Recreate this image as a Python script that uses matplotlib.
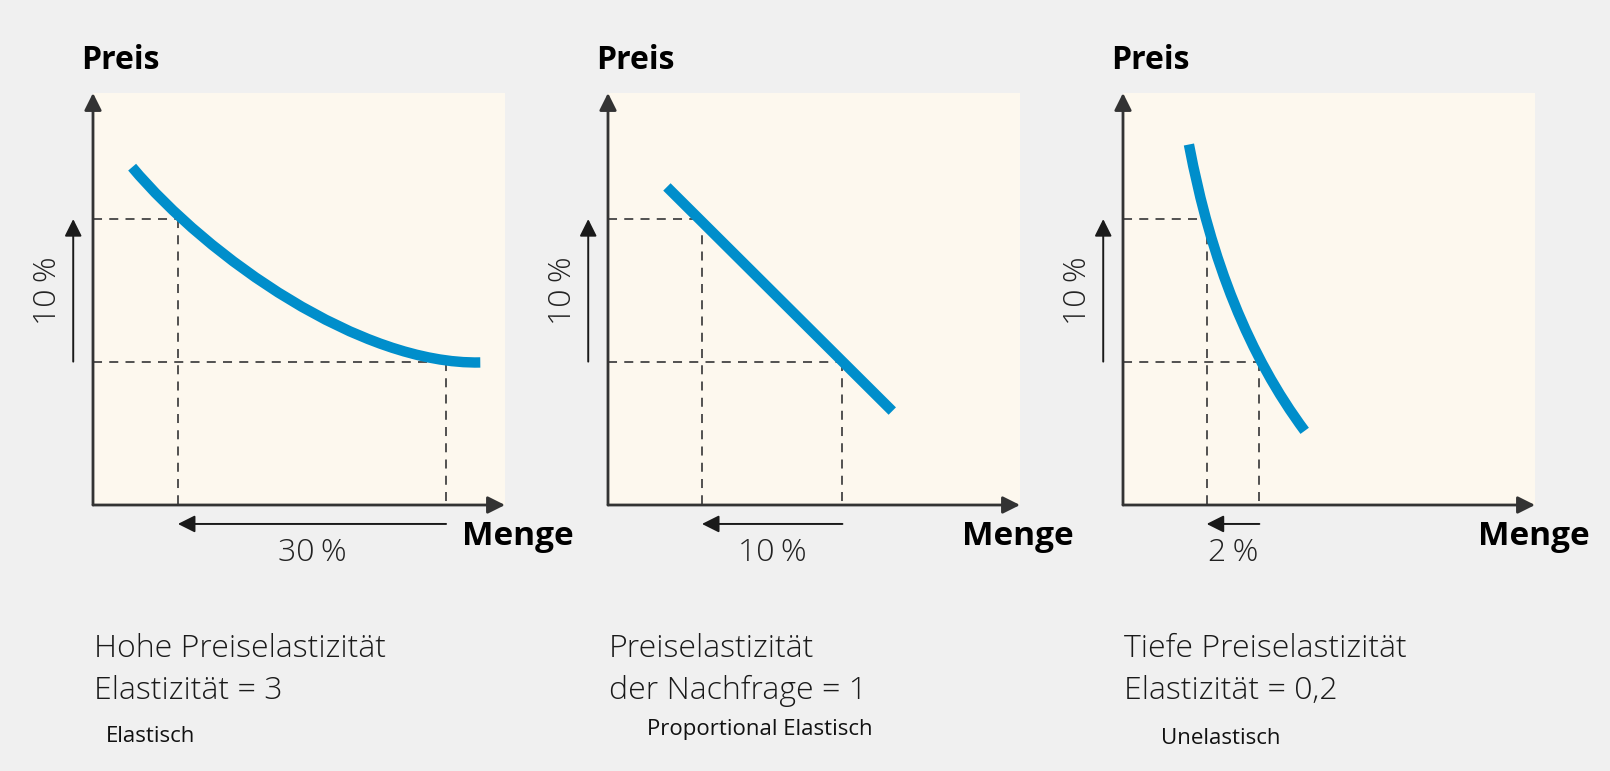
import matplotlib.pyplot as plt
from matplotlib.path import Path
from matplotlib.patches import PathPatch

# chart values (panel units: 0..100 on both axes)
price_high = 69.4
price_low = 34.8

# demand curves, given as bezier control points
curve1_x = [9.5, 28, 65, 94]
curve1_y = [82, 60, 34, 34.6]
curve2_x = [14.3, 69.0]
curve2_y = [77.2, 22.8]
curve3_x = [16, 24, 44.1]
curve3_y = [87.5, 45, 18]

quantities = [[20.6, 85.7], [22.8, 56.9], [20.3, 33.1]]
qty_labels = ['30\u2009%', '10\u2009%', '2\u2009%']
price_label = '10\u2009%'
menge_x = [89.6, 86, 86.2]

titles = [['Hohe Preiselastizität', 'Elastizität = 3'],
          ['Preiselastizität', 'der Nachfrage = 1'],
          ['Tiefe Preiselastizität', 'Elastizität = 0,2']]
subtitles = ['Elastisch', 'Proportional Elastisch', 'Unelastisch']

BG = '#f0f0f0'
CREAM = '#fdf8ee'
BLUE = '#008ecb'
DARK = '#1a1a1a'
FONT = ['Open Sans', 'DejaVu Sans']

W, H = 1610, 771
fig = plt.figure(figsize=(W / 100, H / 100), dpi=100, facecolor=BG)

panel_left = [93, 608, 1123]
panel_bottom = 505
panel_size = 412


def arrow(ax, start, tip, lw=1.4, color=DARK):
    ax.annotate('', xy=tip, xytext=start,
                arrowprops=dict(arrowstyle='-|>', lw=lw, color=color,
                                mutation_scale=26, shrinkA=0, shrinkB=0),
                annotation_clip=False)


def bezier(ax, xs, ys):
    pts = list(zip(xs, ys))
    if len(pts) == 2:
        codes = [Path.MOVETO, Path.LINETO]
    elif len(pts) == 3:
        codes = [Path.MOVETO, Path.CURVE3, Path.CURVE3]
    else:
        codes = [Path.MOVETO, Path.CURVE4, Path.CURVE4, Path.CURVE4]
    ax.add_patch(PathPatch(Path(pts, codes), fill=False, edgecolor=BLUE,
                           lw=7.5, capstyle='butt', zorder=4))


curves = [(curve1_x, curve1_y), (curve2_x, curve2_y), (curve3_x, curve3_y)]
sub_pos = [(106, 736), (647, 729), (1161, 739)]

for i in range(3):
    ax = fig.add_axes([panel_left[i] / W, (H - panel_bottom) / H,
                       panel_size / W, panel_size / H])
    ax.set_facecolor(CREAM)
    ax.set_xlim(0, 100)
    ax.set_ylim(0, 100)
    ax.set_xticks([])
    ax.set_yticks([])
    for s in ax.spines.values():
        s.set_visible(False)

    # axes with arrows
    arrow(ax, (0, 0), (0, 100), lw=2, color='#333333')
    arrow(ax, (0, 0), (100, 0), lw=2, color='#333333')

    qa, qb = quantities[i]
    dash = dict(color='#444444', lw=1.3, ls=(0, (5, 4)), zorder=2)
    ax.plot([0, qa], [price_high, price_high], **dash)
    ax.plot([0, qb], [price_low, price_low], **dash)
    ax.plot([qa, qa], [price_high, 0], **dash)
    ax.plot([qb, qb], [price_low, 0], **dash)

    bezier(ax, *curves[i])

    # price change arrow
    arrow(ax, (-4.8, price_low), (-4.8, price_high))
    ax.text(-10.9, (price_low + price_high) / 2, price_label, rotation=90,
            ha='center', va='center', fontsize=23, color='#222222',
            family=FONT, fontweight='light', clip_on=False)

    # quantity change arrow
    arrow(ax, (qb, -4.6), (qa, -4.6))
    ax.text((qa + qb) / 2, -11.6, qty_labels[i], ha='center', va='center',
            fontsize=23, color='#222222', family=FONT, fontweight='light',
            clip_on=False)

    ax.text(-2.9, 107.8, 'Preis', ha='left', va='center', fontsize=23,
            fontweight='bold', color='black', family=FONT, clip_on=False)
    ax.text(menge_x[i], -7.6, 'Menge', ha='left', va='center', fontsize=24,
            fontweight='bold', color='black', family=FONT, clip_on=False)

    # captions below
    x0 = panel_left[i] + 1
    fig.text(x0 / W, (H - 649) / H, titles[i][0], ha='left', va='center',
             fontsize=23, color='#1a1a1a', family=FONT, fontweight='light')
    fig.text(x0 / W, (H - 691) / H, titles[i][1], ha='left', va='center',
             fontsize=23, color='#1a1a1a', family=FONT, fontweight='light')
    sx, sy = sub_pos[i]
    fig.text(sx / W, (H - sy) / H, subtitles[i], ha='left', va='center',
             fontsize=16, color='#111111', family=FONT)

fig.savefig('out.png', dpi=100, facecolor=BG)
